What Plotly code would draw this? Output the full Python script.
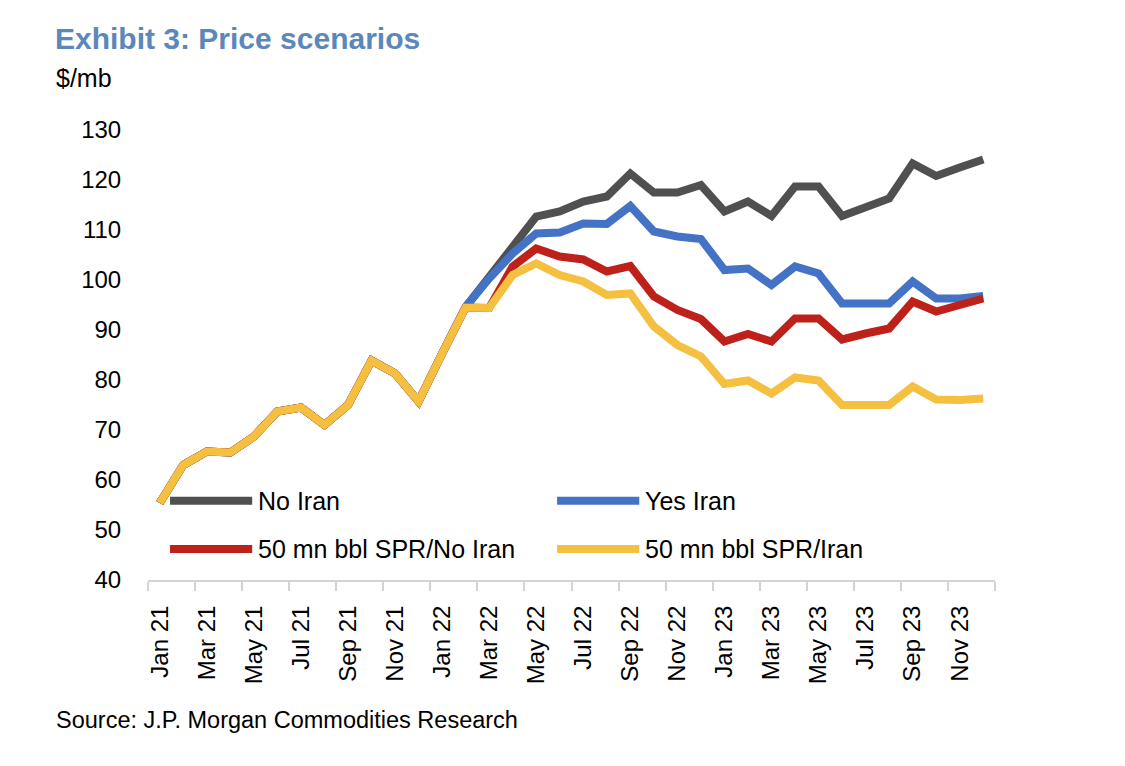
import plotly.graph_objects as go

months = ["Jan 21", "Feb 21", "Mar 21", "Apr 21", "May 21", "Jun 21", "Jul 21", "Aug 21",
          "Sep 21", "Oct 21", "Nov 21", "Dec 21", "Jan 22", "Feb 22", "Mar 22", "Apr 22",
          "May 22", "Jun 22", "Jul 22", "Aug 22", "Sep 22", "Oct 22", "Nov 22", "Dec 22",
          "Jan 23", "Feb 23", "Mar 23", "Apr 23", "May 23", "Jun 23", "Jul 23", "Aug 23",
          "Sep 23", "Oct 23", "Nov 23", "Dec 23"]

history = [55.4, 63.0, 65.7, 65.5, 68.7, 73.7, 74.5, 71.0, 75.0, 83.9, 81.3, 75.7, 85.3]

no_iran = history + [94.6, 100.6, 106.7, 112.7, 113.7, 115.7, 116.7, 121.3, 117.5, 117.5, 119.0,
                     113.7, 115.7, 112.8, 118.7, 118.7, 112.8, 114.7, 116.3, 123.3, 120.8, 122.5, 124.1]
yes_iran = history + [94.6, 100.3, 105.3, 109.3, 109.5, 111.3, 111.2, 114.8, 109.7, 108.7, 108.2,
                      102.0, 102.3, 99.0, 102.7, 101.3, 95.3, 95.3, 95.3, 99.7, 96.3, 96.3, 96.8]
spr_no_iran = history + [94.5, 94.4, 102.7, 106.3, 104.7, 104.1, 101.7, 102.8, 96.7, 94.0, 92.2,
                         87.7, 89.2, 87.7, 92.3, 92.3, 88.1, 89.3, 90.3, 95.7, 93.7, 95.0, 96.3]
spr_iran = history + [94.5, 94.4, 101.0, 103.3, 101.0, 99.7, 97.0, 97.3, 90.7, 87.0, 84.7,
                      79.2, 79.9, 77.3, 80.5, 79.9, 75.0, 75.0, 75.0, 78.7, 76.1, 76.0, 76.3]

series_names = ["No Iran", "Yes Iran", "50 mn bbl SPR/No Iran", "50 mn bbl SPR/Iran"]
series_values = [no_iran, yes_iran, spr_no_iran, spr_iran]
series_colors = ["#505050", "#4472C4", "#BE2119", "#F5BF3F"]

y_ticks = [40, 50, 60, 70, 80, 90, 100, 110, 120, 130]

FONT = "Liberation Sans, Arial, Helvetica, sans-serif"

x_idx = list(range(len(months)))

fig = go.Figure()
for name, vals, col in zip(series_names, series_values, series_colors):
    fig.add_trace(go.Scatter(x=x_idx, y=vals, mode="lines", name=name,
                             line=dict(color=col, width=8), showlegend=False))

# manual legend (two columns, two rows)
leg_pos = [(0.026, 0.176), (0.483, 0.176), (0.026, 0.069), (0.483, 0.069)]
for (lx, ly), name, col in zip(leg_pos, series_names, series_colors):
    fig.add_shape(type="line", xref="paper", yref="paper", x0=lx, x1=lx + 0.097,
                  y0=ly, y1=ly, line=dict(color=col, width=8))
    fig.add_annotation(xref="paper", yref="paper", x=lx + 0.101, y=ly, text=name,
                       showarrow=False, xanchor="left", yanchor="middle",
                       font=dict(family=FONT, size=25, color="#000000"))

fig.add_annotation(xref="paper", yref="paper", x=-0.111, y=1.116, text="$/mb",
                   showarrow=False, xanchor="left", yanchor="middle",
                   font=dict(family=FONT, size=25, color="#000000"))
fig.add_annotation(xref="paper", yref="paper", x=-0.111, y=-0.311,
                   text="Source: J.P. Morgan Commodities Research",
                   showarrow=False, xanchor="left", yanchor="middle",
                   font=dict(family=FONT, size=23.5, color="#000000"))

fig.update_layout(
    width=1117, height=758,
    margin=dict(l=140, r=130, t=122, b=186),
    paper_bgcolor="white", plot_bgcolor="white",
    font=dict(family=FONT, size=24, color="#000000"),
    title=dict(text="<b>Exhibit 3: Price scenarios</b>", x=47 / 1117, xanchor="left",
               y=1 - 30 / 758, yanchor="middle",
               font=dict(family=FONT, size=30, color="#5B87BA")),
    xaxis=dict(range=[-0.5, 35.5], tickmode="array",
               tickvals=x_idx[::2], ticktext=months[::2], tickangle=-90,
               ticks="outside", ticklen=14, tickcolor="rgba(0,0,0,0)",
               showline=True, linecolor="#D3D3D3", linewidth=2,
               showgrid=False, zeroline=False,
               minor=dict(tickmode="array", tickvals=[i - 0.5 for i in range(0, 37, 2)],
                          ticks="outside", ticklen=9, tickcolor="#D3D3D3", tickwidth=2,
                          showgrid=False),
               tickfont=dict(family=FONT, size=24)),
    yaxis=dict(range=[40, 130], tickmode="array", tickvals=y_ticks,
               showline=False, showgrid=False, zeroline=False,
               ticks="outside", ticklen=21, tickcolor="rgba(0,0,0,0)",
               tickfont=dict(family=FONT, size=24)),
)

fig.write_html("out.html")
